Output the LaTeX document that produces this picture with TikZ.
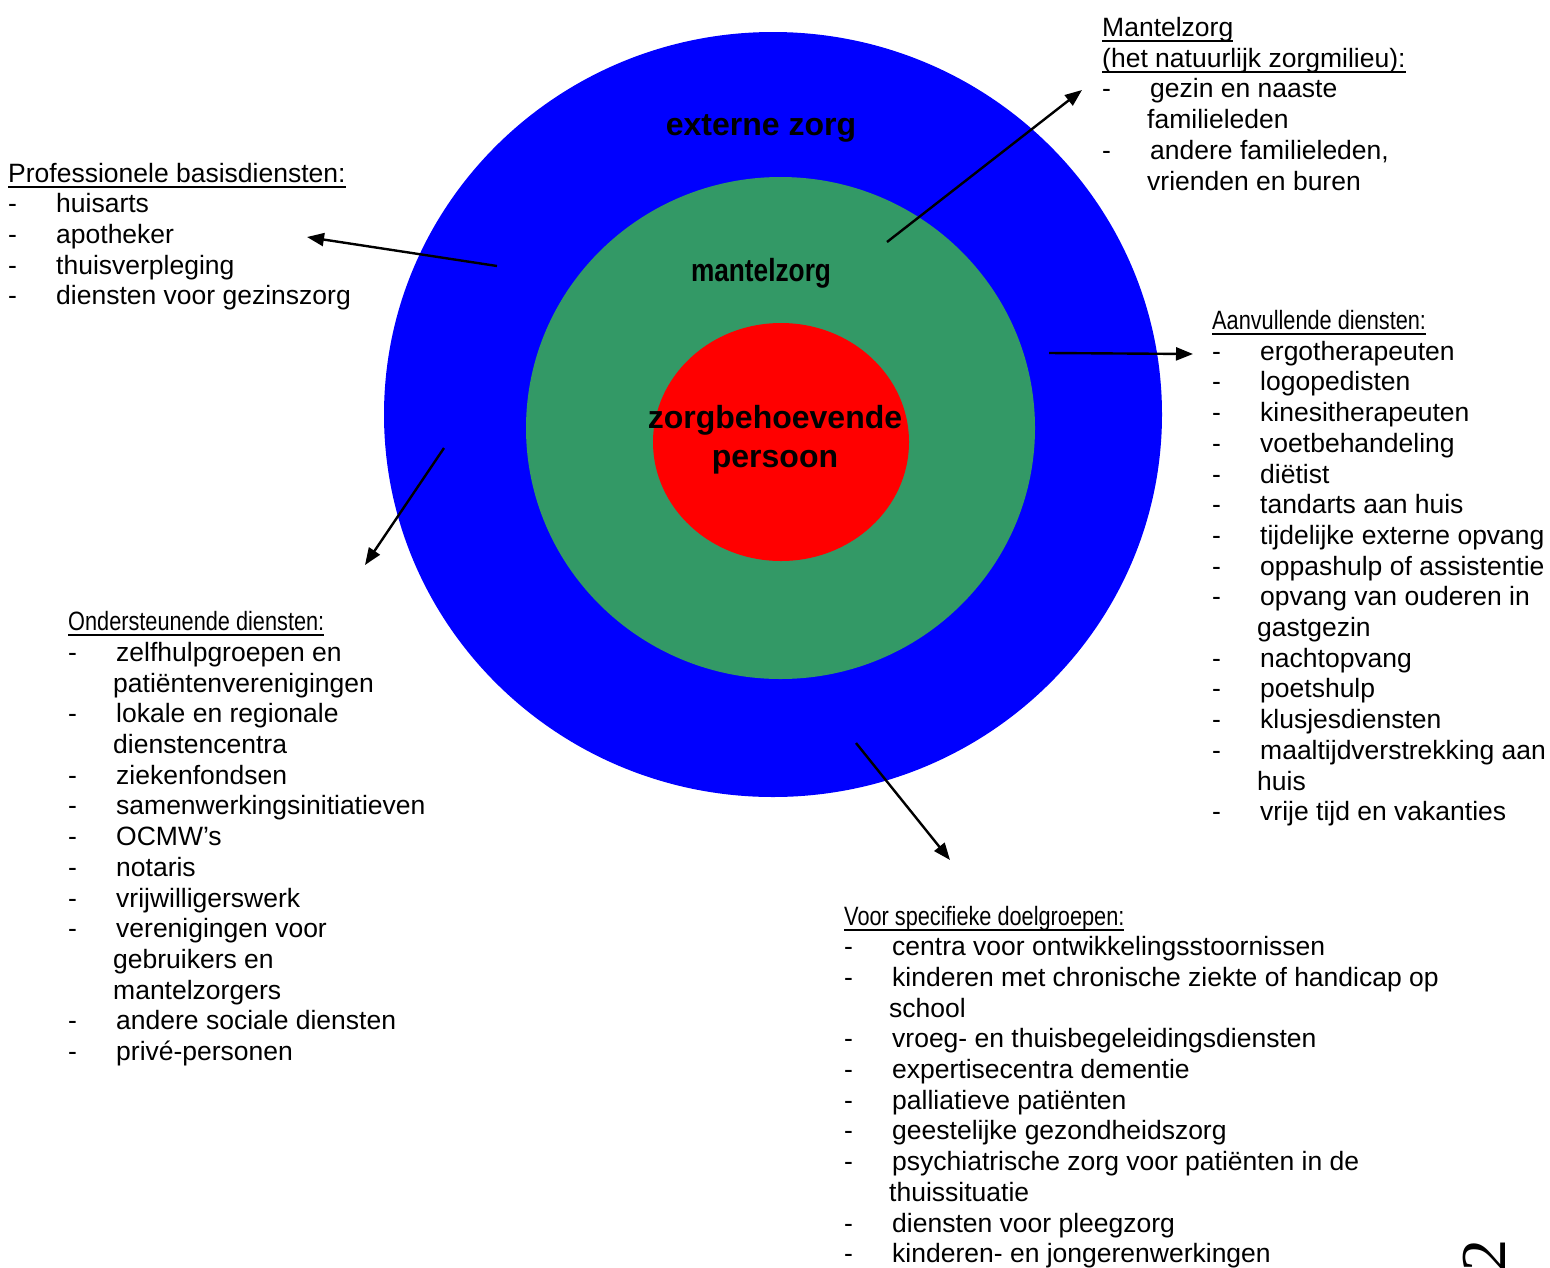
\documentclass[tikz,border=0pt]{standalone}
\usepackage{fontspec}
\setmainfont{Liberation Sans}
\newfontfamily\narrowfont{Liberation Sans}[FakeStretch=0.82]
\newfontfamily\pagefont{Liberation Serif}
\usepackage{array}
\usetikzlibrary{arrows.meta}

\newsavebox\kopbox
\newcommand\onderlijn[1]{\sbox\kopbox{#1}\rlap{\rule[-5.5pt]{\wd\kopbox}{1.8pt}}\usebox\kopbox}
\newcommand\lijstfont{\fontsize{26.5pt}{30.7pt}\selectfont}
\newcommand\kernfont{\bfseries\fontsize{32pt}{39pt}\selectfont}
\newenvironment{opsomming}{\begin{tabular}[t]{@{}p{48pt}@{}l@{}}}{\end{tabular}}
\newcommand\kop[1]{\multicolumn{2}{@{}l@{}}{\onderlijn{#1}}}
\newcommand\smalkop[1]{\multicolumn{2}{@{}l@{}}{\narrowfont\onderlijn{#1}}}
\newcommand\verder{\hspace*{-3pt}}

\definecolor{extblauw}{RGB}{0,0,255}
\definecolor{mantelgroen}{RGB}{51,153,102}
\definecolor{kernrood}{RGB}{255,0,0}

\tikzset{
  lijst/.style={anchor=base west, inner sep=0pt, font=\lijstfont},
  kern/.style={anchor=base, inner sep=0pt, font=\kernfont},
  pijl/.style={line width=2.4pt, -{Triangle[length=17pt,width=13pt]}},
}

\begin{document}
\begin{tikzpicture}[x=1pt,y=-1pt]
\useasboundingbox (0,0) rectangle (1550,1267);

\fill[extblauw] (773,414.5) ellipse [x radius=389pt, y radius=382.5pt];
\fill[mantelgroen] (780.5,428) ellipse [x radius=254.5pt, y radius=251pt];
\fill[kernrood] (781,442) ellipse [x radius=128pt, y radius=119pt];

\node[kern] (extern) at (761,135) {externe zorg};
\node[kern, font=\narrowfont\kernfont] (mantel) at (761,281.5) {mantelzorg};
\node[kern] (persoon) at (775,428) {\begin{tabular}[t]{@{}c@{}}zorgbehoevende\\persoon\end{tabular}};

\node[lijst] (prof) at (8,182) {\begin{opsomming}
\kop{Professionele basisdiensten:}\\
- & huisarts\\
- & apotheker\\
- & thuisverpleging\\
- & diensten voor gezinszorg
\end{opsomming}};

\node[lijst] (natuur) at (1102,36.5) {\begin{opsomming}
\kop{Mantelzorg}\\
\kop{(het natuurlijk zorgmilieu):}\\
- & gezin en naaste\\
  & \verder familieleden\\
- & andere familieleden,\\
  & \verder vrienden en buren
\end{opsomming}};

\node[lijst] (aanv) at (1212,329.5) {\begin{opsomming}
\smalkop{Aanvullende diensten:}\\
- & ergotherapeuten\\
- & logopedisten\\
- & kinesitherapeuten\\
- & voetbehandeling\\
- & diëtist\\
- & tandarts aan huis\\
- & tijdelijke externe opvang\\
- & oppashulp of assistentie\\
- & opvang van ouderen in\\
  & \verder gastgezin\\
- & nachtopvang\\
- & poetshulp\\
- & klusjesdiensten\\
- & maaltijdverstrekking aan\\
  & \verder huis\\
- & vrije tijd en vakanties
\end{opsomming}};

\node[lijst] (onder) at (68,630.7) {\begin{opsomming}
\smalkop{Ondersteunende diensten:}\\
- & zelfhulpgroepen en\\
  & \verder patiëntenverenigingen\\
- & lokale en regionale\\
  & \verder dienstencentra\\
- & ziekenfondsen\\
- & samenwerkingsinitiatieven\\
- & OCMW’s\\
- & notaris\\
- & vrijwilligerswerk\\
- & verenigingen voor\\
  & \verder gebruikers en\\
  & \verder mantelzorgers\\
- & andere sociale diensten\\
- & privé-personen
\end{opsomming}};

\node[lijst] (doel) at (844,925) {\begin{opsomming}
\smalkop{Voor specifieke doelgroepen:}\\
- & centra voor ontwikkelingsstoornissen\\
- & kinderen met chronische ziekte of handicap op\\
  & \verder school\\
- & vroeg- en thuisbegeleidingsdiensten\\
- & expertisecentra dementie\\
- & palliatieve patiënten\\
- & geestelijke gezondheidszorg\\
- & psychiatrische zorg voor patiënten in de\\
  & \verder thuissituatie\\
- & diensten voor pleegzorg\\
- & kinderen- en jongerenwerkingen
\end{opsomming}};

\node[rotate=90, inner sep=0pt, font=\pagefont\fontsize{64pt}{64pt}\selectfont] (paginanr) at (1484,1255.5) {2};

\coordinate (profvan) at (497,266);
\coordinate (profnaar) at (307,237);
\coordinate (natuurvan) at (887,242);
\coordinate (natuurnaar) at (1082,90);
\coordinate (aanvvan) at (1049,353);
\coordinate (aanvnaar) at (1193,354);
\coordinate (ondervan) at (444,448);
\coordinate (ondernaar) at (365,565);
\coordinate (doelvan) at (856,743);
\coordinate (doelnaar) at (950,860);

\draw[pijl] (profvan) -- (profnaar);
\draw[pijl] (natuurvan) -- (natuurnaar);
\draw[pijl] (aanvvan) -- (aanvnaar);
\draw[pijl] (ondervan) -- (ondernaar);
\draw[pijl] (doelvan) -- (doelnaar);
\end{tikzpicture}
\end{document}
